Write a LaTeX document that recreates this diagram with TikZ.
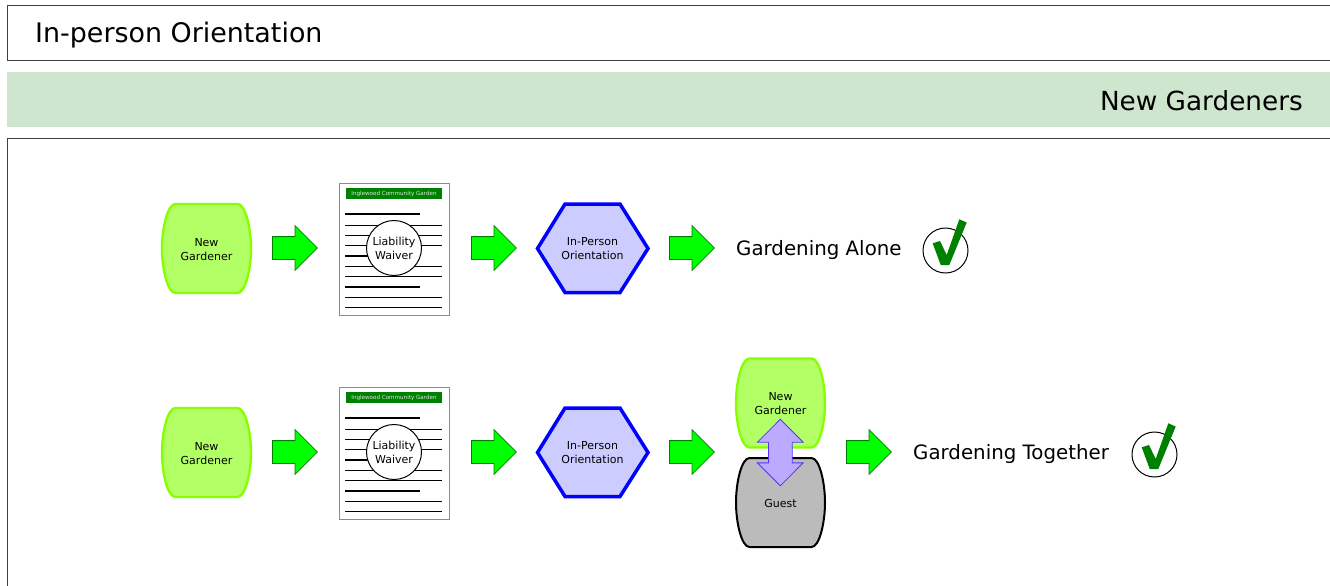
\documentclass[tikz,border=0pt]{standalone}
\usepackage{fontspec}
\setmainfont{DejaVu Sans}
\usetikzlibrary{shapes.arrows}

\definecolor{bandgreen}{HTML}{CEE5CE}
\definecolor{limefill}{HTML}{B3FF66}
\definecolor{limeline}{HTML}{88FF00}
\definecolor{hexfill}{HTML}{CCCCFF}
\definecolor{swapfill}{HTML}{BBAAFF}
\definecolor{swapline}{HTML}{5533FF}
\definecolor{okgreen}{HTML}{008000}
\definecolor{guestfill}{HTML}{BBBBBB}

% barrel: name, x, y, colours, text
\newcommand{\barrel}[5]{
    \draw [#4,shift={(#2,#3)}] (-31,-44.5) -- (31,-44.5)
    .. controls (39,-44.5) and (44.5,-20) .. (44.5,0)
    .. controls (44.5,20) and (39,44.5) .. (31,44.5) -- (-31,44.5)
    .. controls (-39,44.5) and (-44.5,20) .. (-44.5,0)
    .. controls (-44.5,-20) and (-39,-44.5) .. (-31,-44.5) -- cycle ;
    \node [small] (#1) at (#2,#3+0.7) {#5} ;
}
% check: name, x, y
\newcommand{\okmark}[3]{
    \node [okring] (#1) at (#2,#3) {} ;
    \fill [okgreen,shift={(#2,#3)}] (-12.8,-7.2) -- (-5.5,-9.5) -- (1.2,4.5)
    -- (13.8,-31.2) -- (21.2,-28) -- (3.8,14.5) -- (-4.8,14.5) -- cycle ;
}

\begin{document}
\begin{tikzpicture}[x=1pt,y=-1pt,
    small/.style={align=center,inner sep=0pt,font=\fontsize{11}{14}\selectfont},
    big/.style={inner sep=0pt,font=\fontsize{26.9}{30}\selectfont},
    bigright/.style={inner sep=0pt,anchor=east,font=\fontsize{26.3}{30}\selectfont},
    label/.style={inner sep=0pt,anchor=west,font=\fontsize{19.8}{24}\selectfont},
    frame/.style={black!75,line width=1pt},
    goarrow/.style={shape=single arrow,draw=green!50!black,fill=green,line width=0.8pt,
        anchor=tail,inner sep=0pt,text height=22pt,text depth=0pt,minimum height=45pt,
        single arrow head extend=11pt,single arrow tip angle=90},
    swaparrow/.style={shape=double arrow,rotate=90,draw=swapline,fill=swapfill,
        line width=0.8pt,inner sep=0pt,text height=23pt,text depth=0pt,minimum height=66.5pt,
        double arrow head extend=11pt,double arrow tip angle=90},
    gardener/.style={fill=limefill,draw=limeline,line width=2.4pt},
    guest/.style={fill=guestfill,draw=black,line width=2pt},
    okring/.style={circle,draw,fill=white,line width=1pt,inner sep=0pt,minimum size=45pt},
    waiverring/.style={circle,draw,fill=white,line width=1pt,align=center,inner sep=0pt,
        minimum size=55pt,font=\fontsize{11}{14}\selectfont},
    sheet/.style={draw=black!45,fill=white,line width=1pt,inner sep=0pt,
        minimum width=110pt,minimum height=132pt},
    banner/.style={fill=okgreen,text=white!85!okgreen,inner sep=0pt,minimum width=96pt,
        minimum height=11pt,font=\fontsize{5.6}{6}\selectfont},
    heavy/.style={line width=1.8pt},
    thin/.style={line width=0.9pt}]

    \useasboundingbox (0,0) rectangle (1330,586) ;

    \draw [frame] (1331,6) -- (7.5,6) -- (7.5,60.5) -- (1331,60.5) ;
    \fill [bandgreen] (7,72) rectangle (1331,127) ;
    \draw [frame] (1331,138.5) -- (7.5,138.5) -- (7.5,587) ;
    \node [big,anchor=west] (title) at (35,35) {In-person Orientation} ;
    \node [bigright] (group) at (1303,101) {New Gardeners} ;

    \foreach \r/\y in {a/248,b/452} {
        \barrel{new\r}{206.5}{\y+0.5}{gardener}{New\\Gardener}
        \node [goarrow] (go1\r) at (272,\y) {} ;

        \node [sheet] (sheet\r) at (394,\y+1) {} ;
        \node [banner] (banner\r) at (394,\y-54.5) {Inglewood Community Garden} ;
        \foreach \d in {-34,8,39} \draw [heavy] (345,\y+\d) -- (420,\y+\d) ;
        \foreach \d in {-23,-12.5,-2.2,18.5,28.5,49,59.5}
            \draw [thin] (345,\y+\d) -- (442,\y+\d) ;
        \node [waiverring] (waiver\r) at (394,\y) {Liability\\Waiver} ;

        \node [goarrow] (go2\r) at (471,\y) {} ;
        \draw [blue,fill=hexfill,line width=3.5pt,line join=miter]
            (537.5,\y+0.5) -- (565,\y-44) -- (620,\y-44) -- (648,\y+0.5)
            -- (620,\y+44.5) -- (565,\y+44.5) -- cycle ;
        \node [small] (hex\r) at (592.5,\y+0.7) {In-Person\\Orientation} ;
        \node [goarrow] (go3\r) at (669,\y) {} ;
    }

    \node [label] (alone) at (736,250.5) {Gardening Alone} ;
    \okmark{oka}{945.5}{250.5}

    \barrel{pair}{780.5}{403}{gardener}{New\\Gardener}
    \barrel{guest}{780.5}{502.5}{guest}{Guest}
    \node [swaparrow] (swap) at (780.3,452.5) {} ;

    \node [goarrow] (go4b) at (846,452) {} ;
    \node [label] (together) at (913,454.5) {Gardening Together} ;
    \okmark{okb}{1154.5}{454.5}
\end{tikzpicture}
\end{document}
